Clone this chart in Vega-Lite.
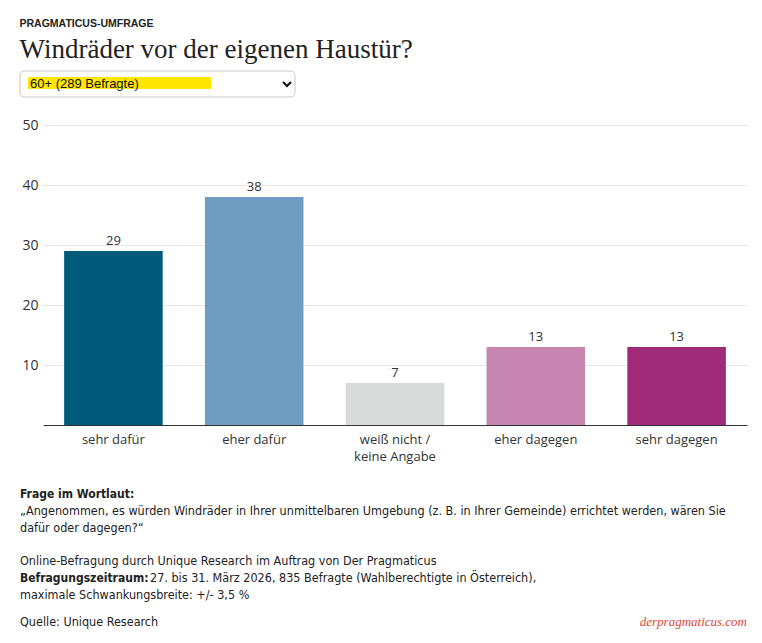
{
  "$schema": "https://vega.github.io/schema/vega-lite/v6.json",
  "width": 704,
  "height": 300,
  "autosize": {"type": "none"},
  "padding": {"left": 43, "top": 125, "right": 15, "bottom": 218},
  "background": "white",
  "config": {"view": {"stroke": null}},
  "title": {
    "text": "PRAGMATICUS-UMFRAGE",
    "subtitle": "Windräder vor der eigenen Haustür?",
    "anchor": "start",
    "dx": 0,
    "offset": 8,
    "font": "Liberation Sans",
    "fontSize": 10.5,
    "fontWeight": "bold",
    "color": "#222",
    "subtitleFont": "Liberation Serif",
    "subtitleFontSize": 27,
    "subtitleColor": "#222",
    "subtitlePadding": 7
  },
  "layer": [
    {
      "data": {"values": [
        {"antwort": "sehr dafür", "prozent": 29},
        {"antwort": "eher dafür", "prozent": 38},
        {"antwort": "weiß nicht / keine Angabe", "prozent": 7},
        {"antwort": "eher dagegen", "prozent": 13},
        {"antwort": "sehr dagegen", "prozent": 13}
      ]},
      "encoding": {
        "x": {
          "field": "antwort", "type": "nominal", "sort": null,
          "scale": {"paddingInner": 0.3, "paddingOuter": 0.15},
          "axis": {
            "title": null, "labelAngle": 0, "ticks": false,
            "domainColor": "#333", "domainWidth": 1,
            "labelFont": "Open Sans", "labelFontSize": 13, "labelColor": "#333",
            "labelPadding": 8, "labelLineHeight": 17,
            "labelExpr": "datum.value == 'weiß nicht / keine Angabe' ? ['weiß nicht /', 'keine Angabe'] : datum.value"
          }
        },
        "y": {
          "field": "prozent", "type": "quantitative",
          "scale": {"domain": [0, 50]},
          "axis": {
            "title": null, "values": [10, 20, 30, 40, 50], "domain": false, "ticks": false,
            "gridColor": "#e6e6e6", "gridWidth": 1,
            "labelFont": "Open Sans", "labelFontSize": 14, "labelColor": "#333", "labelPadding": 5
          }
        }
      },
      "layer": [
        {
          "mark": {"type": "bar"},
          "encoding": {
            "color": {
              "field": "antwort", "type": "nominal", "legend": null,
              "scale": {
                "domain": ["sehr dafür", "eher dafür", "weiß nicht / keine Angabe", "eher dagegen", "sehr dagegen"],
                "range": ["#005a7a", "#6e9dc1", "#d9dbda", "#c785b2", "#9f2a77"]
              }
            }
          }
        },
        {
          "mark": {"type": "text", "dy": -10, "font": "Open Sans", "fontSize": 13, "color": "#333"},
          "encoding": {"text": {"field": "prozent", "type": "quantitative"}}
        }
      ]
    },
    {
      "data": {"values": [{}]},
      "mark": {"type": "rect", "fill": "white", "stroke": "#c8c8c8", "strokeWidth": 1, "cornerRadius": 4},
      "encoding": {"x": {"value": -23}, "x2": {"value": 252}, "y": {"value": -54}, "y2": {"value": -28}}
    },
    {
      "data": {"values": [{}]},
      "mark": {"type": "rect", "fill": "#ffe600"},
      "encoding": {"x": {"value": -15}, "x2": {"value": 168}, "y": {"value": -48}, "y2": {"value": -36}}
    },
    {
      "data": {"values": [{"label": "60+ (289 Befragte)"}]},
      "mark": {"type": "text", "align": "left", "baseline": "alphabetic", "font": "Liberation Sans", "fontSize": 13, "color": "#111"},
      "encoding": {"x": {"value": -13}, "y": {"value": -37}, "text": {"field": "label"}}
    },
    {
      "data": {"values": [{}]},
      "mark": {"type": "point", "shape": "M-1,-0.5L0,0.5L1,-0.5", "filled": false, "stroke": "#111", "strokeWidth": 2, "size": 64, "opacity": 1},
      "encoding": {"x": {"value": 244}, "y": {"value": -41}}
    },
    {
      "data": {"values": [{"t": "Frage im Wortlaut:"}]},
      "mark": {"type": "text", "align": "left", "baseline": "alphabetic", "font": "DejaVu Sans Condensed", "fontSize": 12, "fontWeight": "bold", "color": "#222"},
      "encoding": {"x": {"value": -23}, "y": {"value": 373}, "text": {"field": "t"}}
    },
    {
      "data": {"values": [
        {"t": "„Angenommen, es würden Windräder in Ihrer unmittelbaren Umgebung (z. B. in Ihrer Gemeinde) errichtet werden, wären Sie"}
      ]},
      "mark": {"type": "text", "align": "left", "baseline": "alphabetic", "font": "DejaVu Sans Condensed", "fontSize": 12.5, "color": "#222"},
      "encoding": {"x": {"value": -23}, "y": {"value": 390}, "text": {"field": "t"}}
    },
    {
      "data": {"values": [{"t": "dafür oder dagegen?“"}]},
      "mark": {"type": "text", "align": "left", "baseline": "alphabetic", "font": "DejaVu Sans Condensed", "fontSize": 12.5, "color": "#222"},
      "encoding": {"x": {"value": -23}, "y": {"value": 407}, "text": {"field": "t"}}
    },
    {
      "data": {"values": [{"t": "Online-Befragung durch Unique Research im Auftrag von Der Pragmaticus"}]},
      "mark": {"type": "text", "align": "left", "baseline": "alphabetic", "font": "DejaVu Sans Condensed", "fontSize": 12.5, "color": "#222"},
      "encoding": {"x": {"value": -23}, "y": {"value": 440}, "text": {"field": "t"}}
    },
    {
      "data": {"values": [{"t": "Befragungszeitraum:"}]},
      "mark": {"type": "text", "align": "left", "baseline": "alphabetic", "font": "DejaVu Sans Condensed", "fontSize": 12, "fontWeight": "bold", "color": "#222"},
      "encoding": {"x": {"value": -23}, "y": {"value": 457}, "text": {"field": "t"}}
    },
    {
      "data": {"values": [{"t": "27. bis 31. März 2026, 835 Befragte (Wahlberechtigte in Österreich),"}]},
      "mark": {"type": "text", "align": "left", "baseline": "alphabetic", "font": "DejaVu Sans Condensed", "fontSize": 12.5, "color": "#222"},
      "encoding": {"x": {"value": 107}, "y": {"value": 457}, "text": {"field": "t"}}
    },
    {
      "data": {"values": [{"t": "maximale Schwankungsbreite: +/- 3,5 %"}]},
      "mark": {"type": "text", "align": "left", "baseline": "alphabetic", "font": "DejaVu Sans Condensed", "fontSize": 12.5, "color": "#222"},
      "encoding": {"x": {"value": -23}, "y": {"value": 474}, "text": {"field": "t"}}
    },
    {
      "data": {"values": [{"t": "Quelle: Unique Research"}]},
      "mark": {"type": "text", "align": "left", "baseline": "alphabetic", "font": "DejaVu Sans Condensed", "fontSize": 12.5, "color": "#222"},
      "encoding": {"x": {"value": -23}, "y": {"value": 501}, "text": {"field": "t"}}
    },
    {
      "data": {"values": [{"t": "derpragmaticus.com"}]},
      "mark": {"type": "text", "align": "right", "baseline": "alphabetic", "font": "Liberation Serif", "fontStyle": "italic", "fontSize": 13, "color": "#e0463c"},
      "encoding": {"x": {"value": 704}, "y": {"value": 501}, "text": {"field": "t"}}
    }
  ]
}
